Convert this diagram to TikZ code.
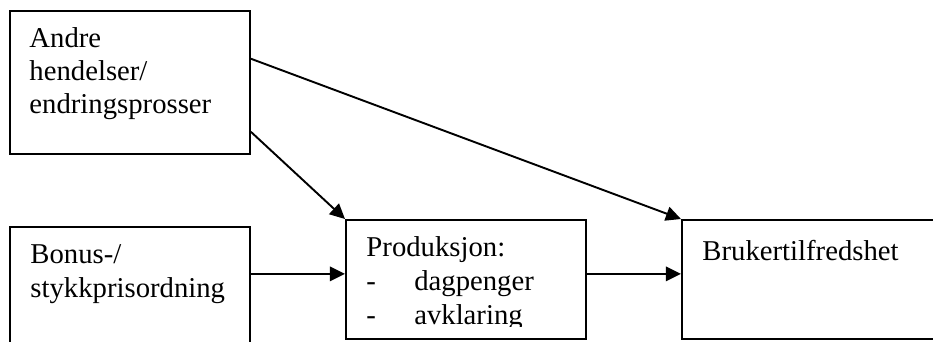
\documentclass[tikz,border=0pt]{standalone}
\usepackage{fontspec}
\setmainfont{Liberation Serif}
\usetikzlibrary{arrows.meta,calc}
\begin{document}
\begin{tikzpicture}[x=0.418pt,y=-0.418pt,
    box/.style={draw,line width=0.8pt,inner sep=0pt,anchor=north west},
    txt/.style={anchor=base west,inner sep=0pt,align=left,text width=100pt,font=\fontsize{12}{13.8}\selectfont},
    pil/.style={-{Triangle[length=6.3pt,width=6pt]},line width=0.8pt}]
  \useasboundingbox (0,0) rectangle (933,341);
  \clip (0,0) rectangle (933,341);
  % boksene
  \node[box,minimum width=100.3pt,minimum height=59.8pt] (andre) at (9,10) {};
  \node[box,minimum width=100.3pt,minimum height=56pt] (bonus) at (9,226) {};
  \node[box,minimum width=100.3pt,minimum height=49.7pt] (prod) at (345,219) {};
  \node[box,minimum width=112.4pt,minimum height=49.7pt] (bruker) at (681,219) {};
  % tekst
  \node[txt] (andretxt) at (29,47) {Andre\\hendelser/\\endringsprosser};
  \node[txt,font=\fontsize{12}{14.3}\selectfont] (bonustxt) at (30,263) {Bonus-/\\stykkprisordning};
  \begin{scope}
    \clip (prod.north west) rectangle (prod.east |- 0,326);
    \node[txt,font=\fontsize{12}{14.3}\selectfont] (prodtxt) at (366,256)
      {Produksjon:\\\makebox[20pt][l]{-}dagpenger\\\makebox[20pt][l]{-}avklaring};
  \end{scope}
  \node[txt] (brukertxt) at (702,260) {Brukertilfredshet};
  % piler
  \coordinate (m) at ($(prod.north west)!0.454!(prod.south west)$);
  \draw[pil] ($(andre.north east)!0.336!(andre.south east)$) -- (bruker.north west);
  \draw[pil] ($(andre.north east)!0.84!(andre.south east)$) -- (prod.north west);
  \draw[pil] (bonus.east |- m) -- (m);
  \draw[pil] (prod.east |- m) -- (bruker.west |- m);
\end{tikzpicture}
\end{document}
